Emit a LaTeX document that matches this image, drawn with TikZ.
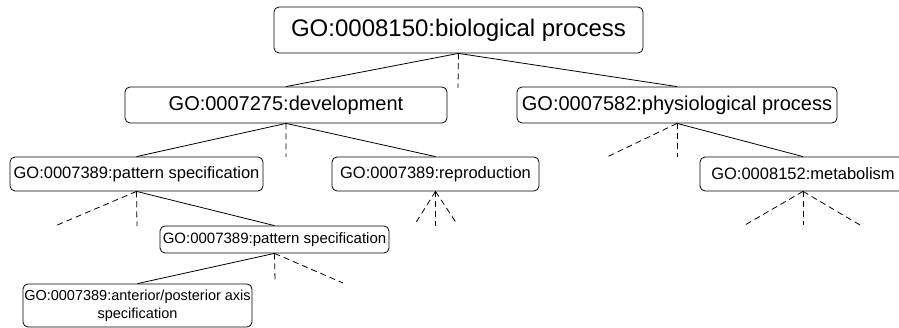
\documentclass[tikz,border=0pt]{standalone}
\usepackage{fontspec}
\setmainfont{Liberation Sans}
\begin{document}
\begin{tikzpicture}[x=1pt,y=-1pt,
		term/.style={draw,rounded corners=5pt,inner sep=0pt,line width=0.8pt},
		isa/.style={line width=0.8pt},
		more/.style={line width=0.8pt,dash pattern=on 6pt off 4pt}]
			\clip (0,0) rectangle (899,328);
			\node[term,minimum width=369pt,minimum height=46pt,font=\fontsize{24}{28}\selectfont] (bio) at (458.5,30) {GO:0008150:biological process};
			\node[term,minimum width=322pt,minimum height=36pt,font=\fontsize{20}{24}\selectfont] (dev) at (286,105) {GO:0007275:development};
			\node[term,minimum width=320pt,minimum height=36pt,font=\fontsize{20}{24}\selectfont] (phys) at (677,105) {GO:0007582:physiological process};
			\node[term,minimum width=253pt,minimum height=34pt,font=\fontsize{16.5}{20}\selectfont] (pat) at (136.5,174) {GO:0007389:pattern specification};
			\node[term,minimum width=207pt,minimum height=34pt,font=\fontsize{16.5}{20}\selectfont] (repro) at (435.5,174) {GO:0007389:reproduction};
			\node[term,minimum width=206pt,minimum height=34pt,font=\fontsize{16.5}{20}\selectfont] (meta) at (803,174) {GO:0008152:metabolism};
			\node[term,minimum width=229pt,minimum height=27pt,font=\fontsize{15}{18}\selectfont] (pat2) at (274.5,239.5) {GO:0007389:pattern specification};
			\node[term,minimum width=229pt,minimum height=43pt,align=center,font=\fontsize{14.5}{18}\selectfont] (axis) at (137.5,305.5) {GO:0007389:anterior/posterior axis\\specification};
			% loose ends of the dashed edges
			\coordinate (bio-d) at (458,88);
			\coordinate (dev-d) at (286,157);
			\coordinate (phys-l) at (607,157);
			\coordinate (phys-d) at (677,157);
			\coordinate (pat-l) at (55,226);
			\coordinate (pat-d) at (137,226);
			\coordinate (repro-l) at (415,224);
			\coordinate (repro-d) at (435.5,226);
			\coordinate (repro-r) at (457,224);
			\coordinate (meta-l) at (745,225);
			\coordinate (meta-d) at (803,225);
			\coordinate (meta-r) at (860,225);
			\coordinate (pat2-d) at (275,281);
			\coordinate (pat2-r) at (343,283);
			\draw[isa] (dev.north)--(bio.south)--(phys.north) (pat.north)--(dev.south)--(repro.north);
			\draw[isa] (phys.south)--(meta.north) (pat.south)--(pat2.north) (pat2.south)--(axis.north);
			\draw[more] (bio.south)--(bio-d) (dev.south)--(dev-d) (pat2.south)--(pat2-d) (pat2.south)--(pat2-r);
			\foreach \leaf in {phys-l,phys-d} \draw[more] (phys.south)--(\leaf);
			\foreach \leaf in {pat-l,pat-d} \draw[more] (pat.south)--(\leaf);
			\foreach \leaf in {repro-l,repro-d,repro-r} \draw[more] (repro.south)--(\leaf);
			\foreach \leaf in {meta-l,meta-d,meta-r} \draw[more] (meta.south)--(\leaf);
\end{tikzpicture}
\end{document}
